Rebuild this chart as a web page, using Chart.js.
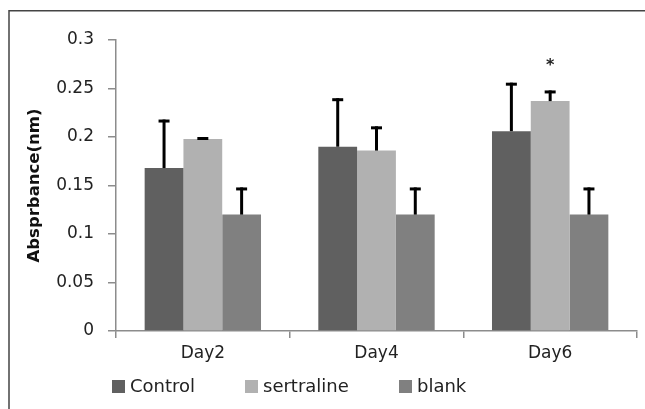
<!DOCTYPE html>
<html>
<head>
<meta charset="utf-8">
<script src="https://cdn.jsdelivr.net/npm/chart.js@4/dist/chart.umd.min.js"></script>
<style>
html,body{margin:0;padding:0;background:#fff;}
#wrap{width:645px;height:409px;position:relative;}
</style>
</head>
<body>
<div id="wrap"><canvas id="c" width="645" height="409"></canvas></div>
<script>
const categories = ["Day2", "Day4", "Day6"];
const seriesNames = ["Control", "sertraline", "blank"];
const controlValues = [0.168, 0.190, 0.206];
const sertralineValues = [0.198, 0.186, 0.237];
const blankValues = [0.120, 0.120, 0.120];
const controlErrors = [0.050, 0.050, 0.050];
const sertralineErrors = [0.002, 0.025, 0.011];
const blankErrors = [0.028, 0.028, 0.028];
const yTickLabels = ["0", "0.05", "0.1", "0.15", "0.2", "0.25", "0.3"];
const significance = [{category: 2, series: 1, text: "*", value: 0.276}];

const FONT = "'DejaVu Sans', sans-serif";
const colors = ["#606060", "#b1b1b1", "#808080"];
const errorSets = [controlErrors, sertralineErrors, blankErrors];

const decor = {
  id: 'decor',
  afterDatasetsDraw(chart) {
    const ctx = chart.ctx;
    const y = chart.scales.y;
    chart.data.datasets.forEach((ds, di) => {
      const meta = chart.getDatasetMeta(di);
      meta.data.forEach((bar, i) => {
        const v = ds.data[i];
        const e = errorSets[di][i];
        const yTop = y.getPixelForValue(v + e);
        const yBase = y.getPixelForValue(v);
        ctx.save();
        ctx.strokeStyle = '#000';
        ctx.lineWidth = 3;
        ctx.beginPath();
        ctx.moveTo(bar.x, yBase);
        ctx.lineTo(bar.x, yTop);
        ctx.stroke();
        ctx.beginPath();
        ctx.moveTo(bar.x - 5.5, yTop + 1.5);
        ctx.lineTo(bar.x + 5.5, yTop + 1.5);
        ctx.stroke();
        ctx.restore();
      });
    });
    significance.forEach(s => {
      const bar = chart.getDatasetMeta(s.series).data[s.category];
      ctx.save();
      ctx.fillStyle = '#222';
      ctx.font = "bold 16px " + FONT;
      ctx.textAlign = 'center';
      ctx.textBaseline = 'middle';
      ctx.fillText(s.text, bar.x, y.getPixelForValue(s.value) + 3);
      ctx.restore();
    });
  },
  afterDraw(chart) {
    const ctx = chart.ctx;
    ctx.save();
    ctx.strokeStyle = '#444';
    ctx.lineWidth = 1.5;
    ctx.beginPath();
    ctx.moveTo(9, 409);
    ctx.lineTo(9, 10.75);
    ctx.lineTo(645, 10.75);
    ctx.stroke();
    const items = [{x: 112}, {x: 245}, {x: 399}];
    ctx.font = "18px " + FONT;
    ctx.textBaseline = 'alphabetic';
    chart.data.datasets.forEach((ds, di) => {
      const lx = items[di].x;
      ctx.fillStyle = ds.backgroundColor;
      ctx.fillRect(lx, 380, 13, 13);
      ctx.fillStyle = '#222';
      ctx.fillText(ds.label, lx + 18, 392);
    });
    ctx.restore();
  }
};

new Chart(document.getElementById('c'), {
  type: 'bar',
  data: {
    labels: categories,
    datasets: [
      {label: seriesNames[0], data: controlValues, backgroundColor: colors[0]},
      {label: seriesNames[1], data: sertralineValues, backgroundColor: colors[1]},
      {label: seriesNames[2], data: blankValues, backgroundColor: colors[2]}
    ]
  },
  options: {
    responsive: false,
    animation: false,
    devicePixelRatio: 1,
    layout: {padding: {left: 0, right: 8, top: 40, bottom: 0}},
    datasets: {bar: {categoryPercentage: 0.67, barPercentage: 1.0, borderWidth: 0}},
    plugins: {legend: {display: false}, tooltip: {enabled: false}},
    scales: {
      x: {
        offset: true,
        grid: {offset: true, drawOnChartArea: false, drawTicks: true, tickLength: 7, color: '#8c8c8c', lineWidth: 1.5},
        border: {display: true, color: '#8c8c8c', width: 1.5},
        ticks: {color: '#222', font: {family: FONT, size: 17}, padding: 5},
        afterFit(scale) { scale.height = 78; }
      },
      y: {
        min: 0, max: 0.3,
        grid: {drawOnChartArea: false, drawTicks: true, tickLength: 8, color: '#8c8c8c', lineWidth: 1.5},
        border: {display: true, color: '#8c8c8c', width: 1.5},
        ticks: {
          stepSize: 0.05, color: '#222', padding: 14,
          font: {family: FONT, size: 17},
          callback: (v, i) => yTickLabels[i]
        },
        title: {display: true, text: 'Absprbance(nm)', color: '#111', font: {family: FONT, size: 16.5, weight: 'bold'}, padding: {top: 25, bottom: 0}},
        afterFit(scale) { scale.width = 116; }
      }
    }
  },
  plugins: [decor]
});
</script>
</body>
</html>
